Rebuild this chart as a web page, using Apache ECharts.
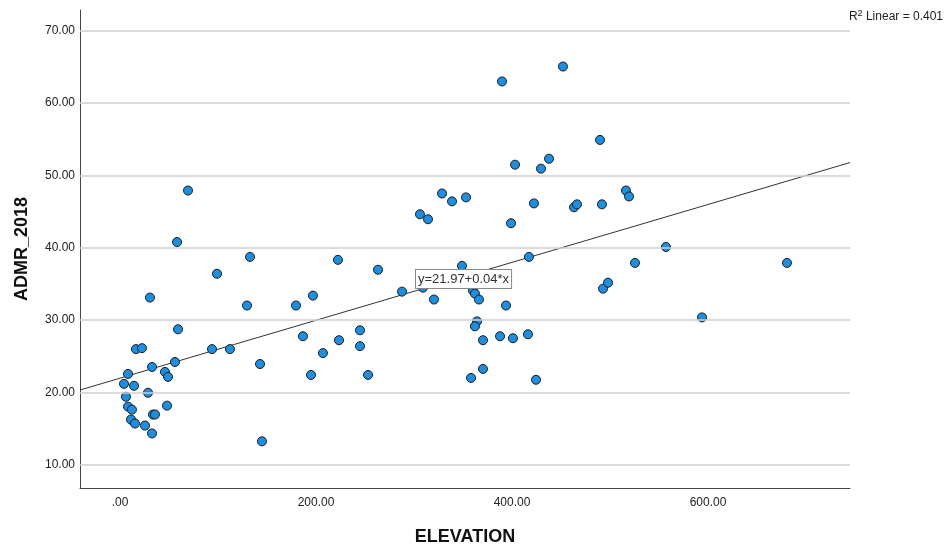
<!DOCTYPE html>
<html>
<head>
<meta charset="utf-8">
<script src="https://cdn.jsdelivr.net/npm/echarts@6/dist/echarts.min.js"></script>
<style>
  html, body { margin: 0; padding: 0; background: #fff; }
  #chart { width: 945px; height: 551px; }
</style>
</head>
<body>
<div id="chart"></div>
<script>
// Elevation of each site and its 2018 ADMR value
const elevation = [
  4.1, 6.1, 8.2, 8.2, 12.2, 11.2, 15.3, 14.3, 16.3, 22.4,
  25.5, 28.6, 30.6, 32.7, 33.7, 35.7, 32.7, 45.9, 49.0, 48.0,
  56.1, 58.2, 59.2, 69.4, 93.9, 99.0, 112.2, 129.6, 132.7, 142.9,
  144.9, 179.6, 186.7, 194.9, 196.9, 207.1, 222.4, 223.5, 244.9, 244.9,
  253.1, 263.3, 287.8, 306.1, 314.3, 320.4, 328.6, 338.8, 353.1, 309.2,
  349.0, 358.2, 360.2, 362.2, 366.3, 364.3, 362.2, 370.4, 370.4, 387.8,
  389.8, 393.9, 399.0, 401.0, 403.1, 416.3, 417.3, 422.4, 424.5, 429.6,
  437.8, 452.0, 463.3, 466.3, 489.8, 491.8, 492.9, 498.0, 516.3, 519.4,
  525.5, 557.1, 593.9, 680.6
];
const admr2018 = [
  21.19, 19.41, 22.56, 18.04, 17.63, 16.26, 15.71, 20.92, 25.99, 26.12,
  15.43, 19.96, 33.11, 23.52, 16.95, 16.95, 14.34, 22.84, 22.15, 18.18,
  24.21, 40.78, 28.73, 47.90, 25.99, 36.40, 25.99, 32.01, 38.73, 23.93,
  13.25, 32.01, 27.77, 22.42, 33.38, 25.44, 38.32, 27.22, 28.59, 26.40,
  22.42, 36.95, 33.93, 44.62, 43.93, 32.84, 47.49, 46.40, 46.95, 34.48,
  37.49, 22.01, 34.07, 33.66, 32.84, 29.82, 29.14, 27.22, 23.25, 27.77,
  62.97, 32.01, 43.38, 27.49, 51.47, 28.04, 38.73, 46.12, 21.75, 50.92,
  52.29, 65.03, 45.58, 45.99, 54.89, 45.99, 34.34, 35.16, 47.90, 47.08,
  37.90, 40.10, 30.37, 37.90
];

// Axis ticks
const xTicks = [0, 200, 400, 600];
const yTicks = [10, 20, 30, 40, 50, 60, 70];

// Fitted linear model
const intercept = 21.97;
const slope = 0.04;
const rSquared = 0.401;

const xMin = -40.8, xMax = 744.9;
const yMin = 6.8, yMax = 72.84;

const points = elevation.map((x, i) => [x, admr2018[i]]);
const fitLine = [xMin, xMax].map(x => [x, intercept + slope * x]);
const fmt = v => (v === 0 ? '.00' : v.toFixed(2));
const FONT = 'Liberation Sans, Arial, sans-serif';

const chart = echarts.init(document.getElementById('chart'), null, { renderer: 'canvas' });

chart.setOption({
  backgroundColor: '#ffffff',
  animation: false,
  grid: { left: 80, top: 10, right: 95, bottom: 59, containLabel: false },
  xAxis: {
    type: 'value',
    min: xMin, max: xMax,
    name: 'ELEVATION',
    nameLocation: 'middle',
    nameGap: 40,
    nameTextStyle: { fontFamily: FONT, fontSize: 18, fontWeight: 'bold', color: '#111' },
    axisLine: { show: true, onZero: false, lineStyle: { color: '#444', width: 1 } },
    axisTick: { show: false, customValues: xTicks },
    axisLabel: {
      customValues: xTicks,
      formatter: fmt,
      margin: 9,
      fontFamily: FONT, fontSize: 12, color: '#222'
    },
    splitLine: { show: false }
  },
  yAxis: {
    type: 'value',
    min: yMin, max: yMax,
    name: 'ADMR_2018',
    nameLocation: 'middle',
    nameGap: 49,
    nameTextStyle: { fontFamily: FONT, fontSize: 18, fontWeight: 'bold', color: '#111' },
    axisLine: { show: true, onZero: false, lineStyle: { color: '#444', width: 1 } },
    axisTick: { show: false, customValues: yTicks },
    axisLabel: {
      customValues: yTicks,
      formatter: fmt,
      margin: 5,
      fontFamily: FONT, fontSize: 12, color: '#222'
    },
    splitLine: { show: false }
  },
  series: [
    {
      // horizontal reference lines at each y tick
      type: 'line',
      data: [],
      silent: true,
      markLine: {
        silent: true,
        symbol: ['none', 'none'],
        label: { show: false },
        lineStyle: { color: '#cfcfcf', width: 1.5, type: 'solid' },
        data: yTicks.map(v => ({ yAxis: v }))
      },
      z: 1
    },
    {
      type: 'line',
      data: fitLine,
      showSymbol: false,
      symbol: 'none',
      clip: true,
      lineStyle: { color: '#333', width: 1 },
      z: 2
    },
    {
      type: 'scatter',
      data: points,
      symbol: 'circle',
      symbolSize: 9,
      itemStyle: { color: '#1a8fe3', borderColor: '#1a1a1a', borderWidth: 1, opacity: 1 },
      z: 3
    }
  ],
  graphic: [
    {
      type: 'text',
      right: 2,
      top: 9,
      style: {
        text: 'R{sup|2} Linear = ' + rSquared.toFixed(3),
        fontFamily: FONT,
        fontSize: 12,
        fill: '#222',
        rich: {
          sup: { fontSize: 9, verticalAlign: 'top', padding: [0, 0, 6, 0], fontFamily: FONT }
        }
      }
    },
    {
      type: 'text',
      left: 415,
      top: 269,
      z: 10,
      style: {
        text: 'y=' + intercept.toFixed(2) + '+' + slope.toFixed(2) + '*x',
        fontFamily: FONT,
        fontSize: 13,
        fill: '#333',
        backgroundColor: '#fff',
        borderColor: '#888',
        borderWidth: 1,
        padding: [3, 2, 2, 2]
      }
    }
  ]
});
</script>
</body>
</html>
